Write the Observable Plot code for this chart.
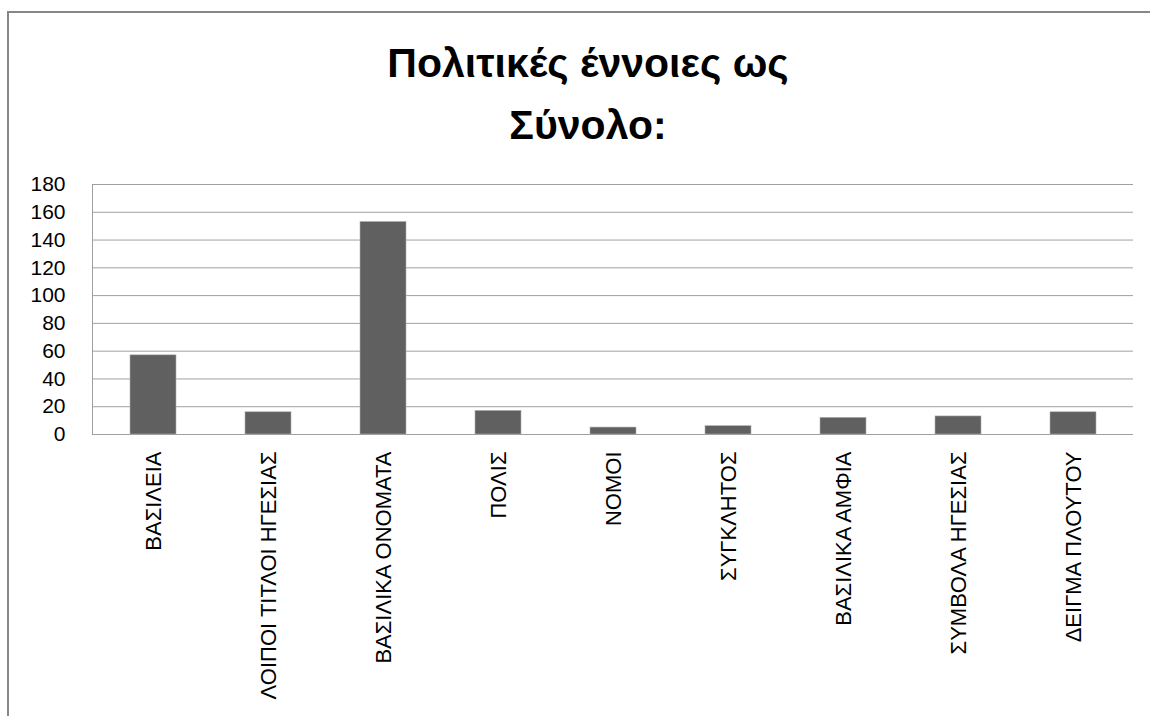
<!DOCTYPE html>
<html><head><meta charset="utf-8">
<script src="https://cdn.jsdelivr.net/npm/d3@7"></script>
<script src="https://cdn.jsdelivr.net/npm/@observablehq/plot@0.6"></script>
<style>
body{margin:0;background:#fff;width:1150px;height:716px;overflow:hidden;position:relative;font-family:"Liberation Sans",sans-serif;}
#frame{position:absolute;left:7px;top:11px;width:1170px;height:740px;border:2px solid #878787;box-sizing:border-box;}
#title{position:absolute;left:8px;width:1160px;top:32px;text-align:center;font-weight:bold;font-size:41px;line-height:62px;color:#000;}
#chart{position:absolute;left:0;top:160px;}
</style></head>
<body>
<div id="frame"></div>
<div id="title"></div>
<div id="chart"></div>
<script>
const titleLines = ["Πολιτικές έννοιες ως", "Σύνολο:"];
const categories = ["ΒΑΣΙΛΕΙΑ","ΛΟΙΠΟΙ ΤΙΤΛΟΙ ΗΓΕΣΙΑΣ","ΒΑΣΙΛΙΚΑ ΟΝΟΜΑΤΑ","ΠΟΛΙΣ","ΝΟΜΟΙ","ΣΥΓΚΛΗΤΟΣ","ΒΑΣΙΛΙΚΑ ΑΜΦΙΑ","ΣΥΜΒΟΛΑ ΗΓΕΣΙΑΣ","ΔΕΙΓΜΑ ΠΛΟΥΤΟΥ"];
const values = [57, 16, 153, 17, 5, 6, 12, 13, 16];
const yTicks = [0,20,40,60,80,100,120,140,160,180];

document.getElementById("title").innerHTML = titleLines.join("<br>");
const data = categories.map((c, i) => ({cat: c, value: values[i]}));

const chart = Plot.plot({
  width: 1150,
  height: 556,
  marginTop: 24,
  marginBottom: 282,
  marginLeft: 92,
  marginRight: 17,
  style: {fontFamily: '"Liberation Sans",sans-serif', color: "#000", background: "transparent"},
  x: {domain: categories, paddingInner: 0.6, paddingOuter: 0.3},
  y: {domain: [0, 180]},
  marks: [
    Plot.gridY(yTicks, {stroke: "#a0a0a0", strokeOpacity: 1}),
    Plot.frame({anchor: "left", stroke: "#a0a0a0"}),
    Plot.barY(data, {x: "cat", y: "value", fill: "#606060", stroke: "#b0b0b0", strokeWidth: 0.6}),
    Plot.ruleY([0], {stroke: "#a0a0a0"}),
    Plot.axisY(yTicks, {tickSize: 0, tickPadding: 27, fontSize: 21, label: null}),
    Plot.axisX({tickRotate: -90, tickSize: 0, tickPadding: 17, fontSize: 22, label: null})
  ]
});
document.getElementById("chart").appendChild(chart);
</script>
</body></html>
